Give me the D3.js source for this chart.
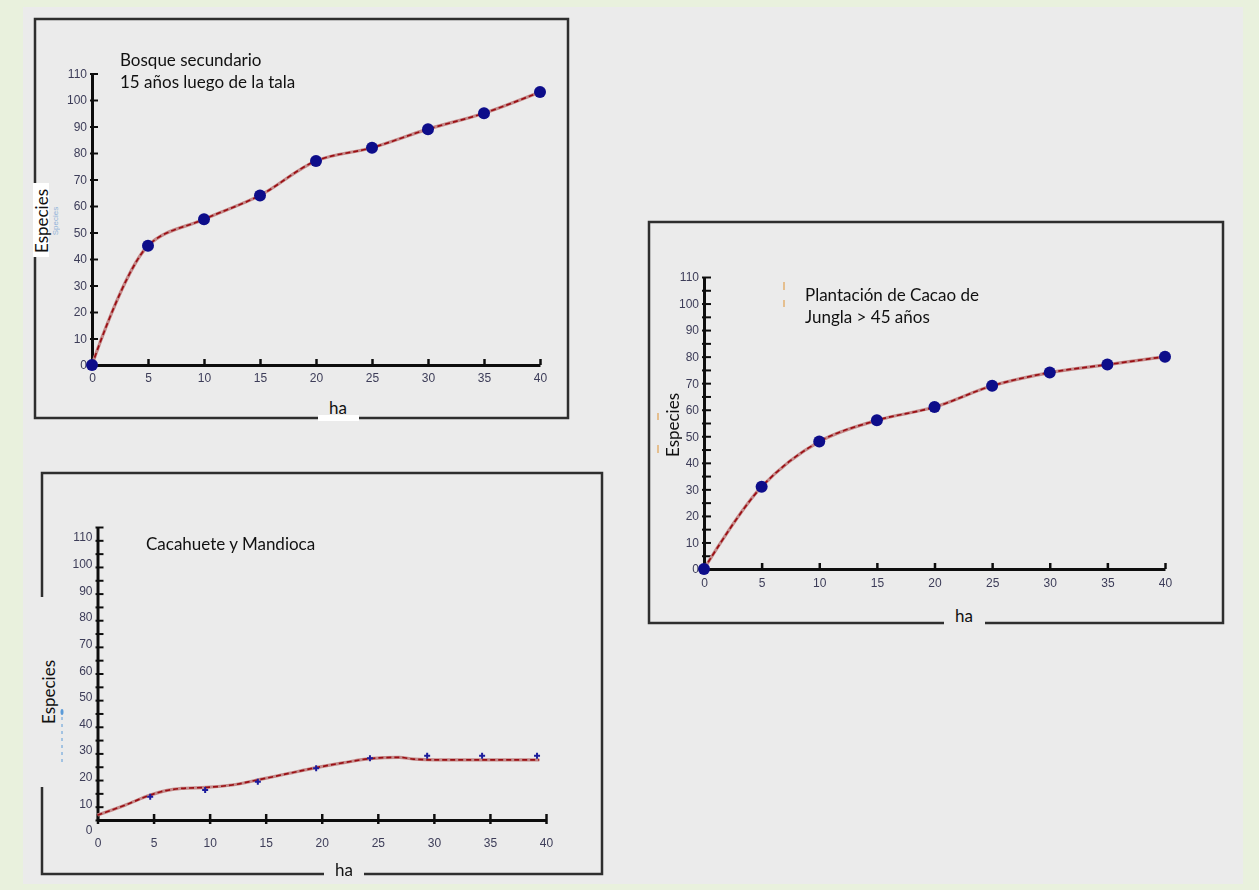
<!DOCTYPE html>
<html><head><meta charset="utf-8">
<script src="https://cdn.jsdelivr.net/npm/d3@7"></script>
<style>
body{margin:0;background:#e9f1dd;}
svg{display:block}
.tk text{font-family:"Liberation Sans",Arial,sans-serif;font-size:12px;fill:#3c3c58;}
.lbl{font-family:Lato,"Open Sans",sans-serif;font-size:17px;fill:#111;}
</style>
</head><body>
<svg id="c" width="1259" height="890"></svg>
<script>
// ---- data ----
const xTicks = [0, 5, 10, 15, 20, 25, 30, 35, 40];
const yTicks = [0, 10, 20, 30, 40, 50, 60, 70, 80, 90, 100, 110];
const yMinorTicks = [0,5,10,15,20,25,30,35,40,45,50,55,60,65,70,75,80,85,90,95,100,105,110];

// Bosque secundario 15 años luego de la tala
const bosqueHa = [0, 5, 10, 15, 20, 25, 30, 35, 40];
const bosqueEspecies = [0, 45, 55, 64, 77, 82, 89, 95, 103];

// Plantación de Cacao de Jungla > 45 años
const cacaoHa = [0, 5, 10, 15, 20, 25, 30, 35, 40];
const cacaoEspecies = [0, 31, 48, 56, 61, 69, 74, 77, 80];

// Cacahuete y Mandioca (points and fitted curve)
const cultivoHa = [4.7, 9.6, 14.3, 19.5, 24.3, 29.4, 34.3, 39.2];
const cultivoEspecies = [12.5, 15, 18.1, 23.2, 26.9, 27.9, 27.9, 27.9];
const cultivoCurvaHa = [0, 2.5, 4.7, 6.1, 7.5, 9.7, 12, 14.3, 17.1, 19.5, 22, 24.3, 26.9, 28.2, 30.2, 35, 39.4];
const cultivoCurvaEspecies = [5.6, 9.4, 13.1, 14.8, 15.6, 16, 16.9, 18.8, 21.3, 23.4, 25.3, 26.8, 27.3, 26.6, 26.3, 26.3, 26.3];

const titles = [
  ["Bosque secundario", "15 años luego de la tala"],
  ["Plantación de Cacao de", "Jungla > 45 años"],
  ["Cacahuete y Mandioca"]
];
const yLabel = "Especies";
const xLabel = "ha";

// ---- drawing ----
const svg = d3.select("#c");
const defs = svg.append("defs");
defs.append("filter").attr("id","bl").attr("x","-20%").attr("y","-20%").attr("width","140%").attr("height","140%")
  .append("feGaussianBlur").attr("stdDeviation",0.6);

svg.append("rect").attr("x",0).attr("y",0).attr("width",1259).attr("height",890).attr("fill","#e9f1dd");
svg.append("rect").attr("x",23).attr("y",7).attr("width",1220).attr("height",877).attr("fill","#ebebeb");

function chart(cfg){
  const g = svg.append("g");
  // frame
  g.append("rect").attr("x",cfg.box[0]).attr("y",cfg.box[1])
    .attr("width",cfg.box[2]-cfg.box[0]).attr("height",cfg.box[3]-cfg.box[1])
    .attr("fill","none").attr("stroke","#2e2e2e").attr("stroke-width",2.5);
  cfg.gaps.forEach(r=>g.append("rect").attr("x",r[0]).attr("y",r[1]).attr("width",r[2]).attr("height",r[3]).attr("fill",r[4]));

  const x = d3.scaleLinear().domain([0,40]).range(cfg.xr);
  const y = d3.scaleLinear().domain([0,110]).range(cfg.yr);
  const yt = d3.scaleLinear().domain([0,110]).range(cfg.ytr || cfg.yr);
  const axisY = yt(0);

  const ax = g.append("g").attr("filter","url(#bl)");
  // y tick marks + axis line
  const ya = ax.append("g").attr("class","tk").attr("transform",`translate(${x(0)},0)`)
    .call(d3.axisRight(yt).tickValues(cfg.yMarks).tickSize(cfg.yTickLen).tickSizeOuter(0).tickFormat(""));
  ya.select(".domain").attr("stroke","#111").attr("stroke-width",3);
  ya.selectAll(".tick line").attr("stroke","#111").attr("stroke-width",2).attr("x1",-2);
  // y labels
  const yl = ax.append("g").attr("class","tk").attr("transform",`translate(${x(0)},0)`)
    .call(d3.axisLeft(y).tickValues(yTicks).tickSize(0).tickPadding(5));
  yl.select(".domain").remove();
  // x tick marks + axis line
  const xa = ax.append("g").attr("class","tk").attr("transform",`translate(0,${axisY})`)
    .call(d3.axisTop(x).tickValues(xTicks).tickSize(6).tickSizeOuter(0).tickFormat(""));
  xa.select(".domain").attr("stroke","#111").attr("stroke-width",3);
  xa.selectAll(".tick line").attr("stroke","#111").attr("stroke-width",2.5).attr("y1",cfg.xTickBelow||0);
  // x labels
  const xl = ax.append("g").attr("class","tk").attr("transform",`translate(0,${axisY})`)
    .call(d3.axisBottom(x).tickValues(xTicks).tickSize(0).tickPadding(cfg.xPad));
  xl.select(".domain").remove();

  // curve
  const data = cfg.curveX.map((v,i)=>[v,cfg.curveY[i]]);
  const line = d3.line().x(d=>x(d[0])).y(d=>y(d[1])).curve(cfg.curve);
  const cg = g.append("g").attr("filter","url(#bl)");
  cg.append("path").attr("d",line(data)).attr("fill","none").attr("stroke","#c48a8a").attr("stroke-width",3.2);
  cg.append("path").attr("d",line(data)).attr("fill","none").attr("stroke","#9a0f12").attr("stroke-width",1.7).attr("stroke-dasharray","5,3");

  // points
  const pts = cfg.px.map((v,i)=>[v,cfg.py[i]]);
  if(cfg.small){
    cg.selectAll("path.pt").data(pts).join("path").attr("class","pt")
      .attr("transform",d=>`translate(${x(d[0])},${y(d[1])})`)
      .attr("d",d3.symbol(d3.symbolCross).size(20)).attr("fill","#1c1c9c");
  } else {
    cg.selectAll("circle").data(pts).join("circle")
      .attr("cx",d=>x(d[0])).attr("cy",d=>y(d[1])).attr("r",6).attr("fill","#0a0a8a");
  }

  // titles
  cfg.title.forEach((t,i)=>g.append("text").attr("class","lbl").attr("x",cfg.tx).attr("y",cfg.ty+i*22).text(t));
  // axis titles
  g.append("text").attr("class","lbl").attr("text-anchor","middle")
    .attr("transform",`translate(${cfg.ey[0]},${cfg.ey[1]}) rotate(-90)`).attr("dy","0.35em").text(yLabel);
  g.append("text").attr("class","lbl").attr("text-anchor","middle").attr("x",cfg.hx[0]).attr("y",cfg.hx[1]).text(xLabel);
  return g;
}

const g1 = chart({
  box:[35,19,568,418],
  gaps:[[33,183,16,74,"#ffffff"],[318,415,41,6,"#ffffff"]],
  xr:[92,540], yr:[365,73.5],
  yMarks:yTicks, yTickLen:6, xPad:8,
  curveX:bosqueHa, curveY:bosqueEspecies, px:bosqueHa, py:bosqueEspecies,
  curve:d3.curveCatmullRom.alpha(0.5),
  title:titles[0], tx:120, ty:66,
  ey:[42,221], hx:[338,414]
});
// faint ghost label next to axis title
g1.append("text").attr("transform","translate(58,221) rotate(-90)").attr("text-anchor","middle")
  .attr("font-family","Liberation Sans").attr("font-size",8).attr("fill","#7aa6d6").attr("opacity",0.8).text("Species");

const g2 = chart({
  box:[649,222,1223,623],
  gaps:[[944,619,41,7,"#ebebeb"]],
  xr:[704,1165], yr:[569,277],
  yMarks:yMinorTicks, yTickLen:7, xPad:9,
  curveX:cacaoHa, curveY:cacaoEspecies, px:cacaoHa, py:cacaoEspecies,
  curve:d3.curveCatmullRom.alpha(0.5),
  title:titles[1], tx:805, ty:301,
  ey:[673,425], hx:[964,622]
});
[[784,282,290],[784,300,307],[658,413,420],[658,445,453]].forEach(a=>
  g2.append("line").attr("x1",a[0]).attr("x2",a[0]).attr("y1",a[1]).attr("y2",a[2])
    .attr("stroke","#e0a050").attr("stroke-width",1.5).attr("opacity",0.8));

const g3 = chart({
  box:[42,473,602,874],
  gaps:[[38,597,9,190,"#ebebeb"],[324,870,40,8,"#ebebeb"]],
  xr:[97.5,546], yr:[830,537], ytr:[820,527],
  yMarks:yMinorTicks, yTickLen:6, xPad:18, xTickBelow:4,
  curveX:cultivoCurvaHa, curveY:cultivoCurvaEspecies, px:cultivoHa, py:cultivoEspecies,
  curve:d3.curveMonotoneX, small:true,
  title:titles[2], tx:146, ty:550,
  ey:[49,692], hx:[344,876]
});
g3.append("line").attr("x1",62).attr("x2",62).attr("y1",710).attr("y2",762)
  .attr("stroke","#5a9ad8").attr("stroke-width",1).attr("stroke-dasharray","3,4");
g3.append("ellipse").attr("cx",62).attr("cy",712).attr("rx",1.5).attr("ry",3).attr("fill","#5a9ad8");
</script>
</body></html>
